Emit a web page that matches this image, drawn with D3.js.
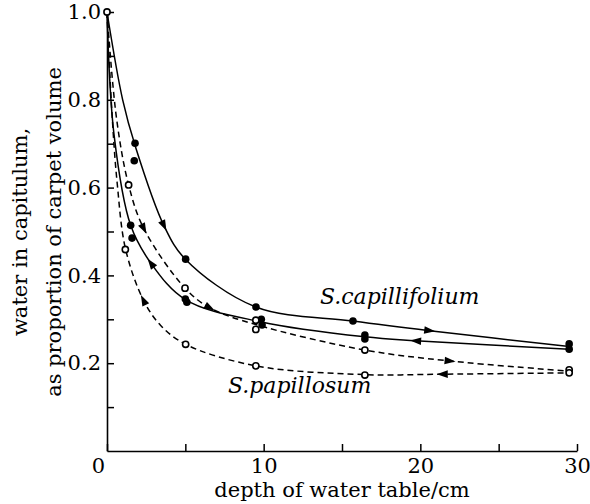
<!DOCTYPE html>
<html><head><meta charset="utf-8">
<script src="https://cdn.jsdelivr.net/npm/d3@7/dist/d3.min.js"></script>
<style>body{margin:0;background:#fff}</style>
</head><body>
<svg id="chart" width="590" height="504"></svg>
<script>
// ---- data ----
const xTicks = [0, 5, 10, 15, 20, 25, 30];
const xTickLabels = ["0", "", "10", "", "20", "", "30"];
const yTicks = [0.1, 0.2, 0.3, 0.4, 0.5, 0.6, 0.7, 0.8, 0.9, 1.0];
const yTickLabels = ["", "0.2", "", "0.4", "", "0.6", "", "0.8", "", "1.0"];
const xTitle = "depth of water table/cm";
const yTitle1 = "water in capitulum,";
const yTitle2 = "as proportion of carpet volume";
const label1 = "S.capillifolium";
const label2 = "S.papillosum";

// fitted curves [depth, water]
const capDryLine = [[0,1.0],[1.0,0.80],[1.8,0.695],[3.64,0.513],[5.0,0.437],[9.5,0.328],[15.7,0.296],[20.6,0.274],[29.5,0.238]];
const capWetLine = [[0,1.0],[0.45,0.72],[1.51,0.514],[2.8,0.428],[5.0,0.345],[9.85,0.294],[16.46,0.26],[19.7,0.251],[29.5,0.232]];
const papDryLine = [[0,1.0],[0.6,0.76],[1.38,0.606],[2.36,0.506],[4.98,0.371],[6.57,0.326],[9.5,0.288],[16.46,0.230],[21.9,0.205],[29.5,0.182]];
const papWetLine = [[0,1.0],[0.3,0.78],[0.65,0.61],[1.19,0.459],[2.32,0.344],[3.4,0.287],[5.02,0.243],[9.5,0.194],[16.46,0.174],[21.4,0.175],[29.5,0.178]];

// arrow positions (depth): drying curves point to deeper water table, re-wetting curves back
const capDryArrows = [3.64, 20.6];
const capWetArrows = [2.8, 19.7];
const papDryArrows = [2.36, 6.57, 21.9];
const papWetArrows = [2.32, 21.4];

// observed points
const capPoints = [[1.79,0.701],[1.74,0.661],[5.02,0.437],[9.51,0.328],[15.7,0.296],[29.5,0.244],[29.5,0.232],
  [16.46,0.264],[16.46,0.255],[9.85,0.300],[9.9,0.287],[5.0,0.346],[5.1,0.339],[1.51,0.514],[1.6,0.485]];
const papPoints = [[0,1.0],[1.38,0.606],[4.98,0.371],[9.5,0.298],[9.5,0.277],[16.46,0.230],[29.5,0.185],
  [29.5,0.178],[16.46,0.173],[9.5,0.194],[5.02,0.243],[1.17,0.459]];

// ---- drawing ----
const svg = d3.select("#chart");
const font = "'DejaVu Serif', serif";
const x = d3.scaleLinear().domain([0, 30]).range([107, 577]);
const y = d3.scaleLinear().domain([0, 1]).range([451, 12]);

const gx = svg.append("g").attr("transform", "translate(0,451)")
  .call(d3.axisBottom(x).tickValues(xTicks).tickFormat((d,i)=>xTickLabels[i])
        .tickSizeInner(-7).tickSizeOuter(0).tickPadding(7));
const gy = svg.append("g").attr("transform", "translate(107,0)")
  .call(d3.axisLeft(y).tickValues(yTicks).tickFormat((d,i)=>yTickLabels[i])
        .tickSizeInner(-7).tickSizeOuter(0).tickPadding(6));
[gx, gy].forEach(g => {
  g.select(".domain").attr("stroke", "#000").attr("stroke-width", 1.6);
  g.selectAll(".tick line").attr("stroke", "#000").attr("stroke-width", 1.5);
  g.selectAll(".tick text").attr("font-family", font).attr("font-size", 21).attr("fill", "#000");
});
gx.selectAll(".tick text").filter(d => d === 0).attr("dx", -9);

svg.append("text").attr("x", 342).attr("y", 497).attr("text-anchor", "middle")
  .attr("font-family", font).attr("font-size", 21).text(xTitle);
svg.append("text").attr("transform", "translate(27,232) rotate(-90)").attr("text-anchor", "middle")
  .attr("font-family", font).attr("font-size", 21).text(yTitle1);
svg.append("text").attr("transform", "translate(61,232) rotate(-90)").attr("text-anchor", "middle")
  .attr("font-family", font).attr("font-size", 21).text(yTitle2);

svg.append("text").attr("x", 320).attr("y", 304).attr("font-family", font).attr("font-style", "italic")
  .attr("font-size", 22).text(label1);
svg.append("text").attr("x", 228).attr("y", 393).attr("font-family", font).attr("font-style", "italic")
  .attr("font-size", 22).text(label2);

const line = d3.line().x(d => x(d[0])).y(d => y(d[1])).curve(d3.curveCatmullRom.alpha(0.5));

function drawCurve(data, dashed, arrows, dir) {
  const p = svg.append("path").datum(data).attr("d", line)
    .attr("fill", "none").attr("stroke", "#000").attr("stroke-width", 1.5)
    .attr("stroke-dasharray", dashed ? "6,4" : null);
  const node = p.node();
  const L = node.getTotalLength();
  arrows.forEach(dep => {
    const tx = x(dep);
    let lo = 0, hi = L;
    for (let k = 0; k < 40; k++) {
      const mid = (lo + hi) / 2;
      if (node.getPointAtLength(mid).x < tx) lo = mid; else hi = mid;
    }
    const l = (lo + hi) / 2;
    const a = node.getPointAtLength(Math.max(0, l - 2));
    const b = node.getPointAtLength(Math.min(L, l + 2));
    let ang = Math.atan2(b.y - a.y, b.x - a.x) * 180 / Math.PI;
    if (dir < 0) ang += 180;
    const c = node.getPointAtLength(l);
    svg.append("path").attr("d", "M5.5,0 L-5.5,-3.8 L-5.5,3.8 Z").attr("fill", "#000")
      .attr("transform", `translate(${c.x},${c.y}) rotate(${ang})`);
  });
}
drawCurve(capDryLine, false, capDryArrows, 1);
drawCurve(capWetLine, false, capWetArrows, -1);
drawCurve(papDryLine, true, papDryArrows, 1);
drawCurve(papWetLine, true, papWetArrows, -1);

svg.append("g").selectAll("circle").data(capPoints).join("circle")
  .attr("cx", d => x(d[0])).attr("cy", d => y(d[1])).attr("r", 3.8).attr("fill", "#000");
svg.append("g").selectAll("circle").data(papPoints).join("circle")
  .attr("cx", d => x(d[0])).attr("cy", d => y(d[1])).attr("r", 3.1)
  .attr("fill", "#fff").attr("stroke", "#000").attr("stroke-width", 1.6);
</script>
</body></html>
